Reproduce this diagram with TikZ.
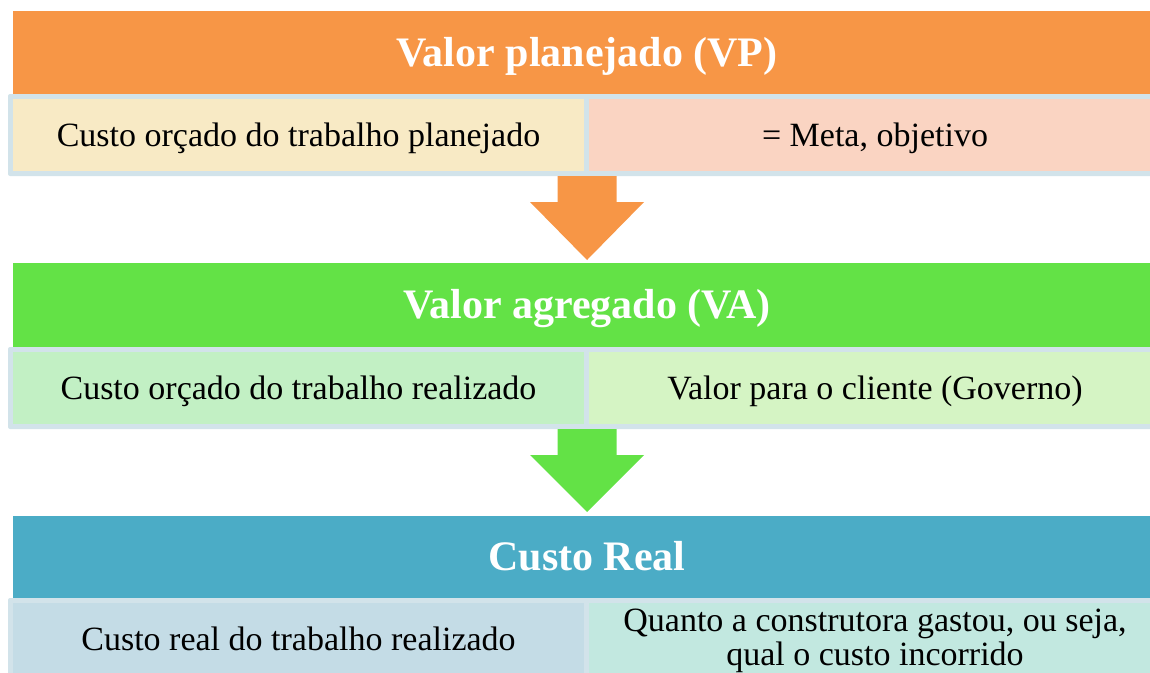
\documentclass[tikz,border=0pt]{standalone}
\usepackage{fontspec}
\setmainfont{Liberation Serif}
\usetikzlibrary{calc}
\definecolor{hOrange}{HTML}{F79646}
\definecolor{hGreen}{HTML}{63E246}
\definecolor{hBlue}{HTML}{4BACC6}
\definecolor{frameC}{HTML}{D2E3EA}
\definecolor{cYellow}{HTML}{F8EAC5}
\definecolor{cPeach}{HTML}{FAD4C2}
\definecolor{cGreenA}{HTML}{C2F0C4}
\definecolor{cGreenB}{HTML}{D5F4C4}
\definecolor{cBlueA}{HTML}{C4DCE6}
\definecolor{cBlueB}{HTML}{C2E8E0}
\tikzset{
  headbox/.style={minimum width=1148pt, minimum height=84pt, inner sep=0pt, text=white,
    text height=32pt, text depth=6pt, font=\fontsize{42}{46}\selectfont\bfseries},
  framebox/.style={fill=frameC, minimum width=1158pt, minimum height=82pt, inner sep=0pt, rounded corners=2pt},
  cellbox/.style={minimum width=571pt, minimum height=72pt, inner sep=0pt, text=black, align=center,
    font=\fontsize{34}{34}\selectfont},
  oneline/.style={text height=28pt, text depth=6pt},
}
\newcommand{\blockarrow}[3]{%
  \fill[#1] ($(#2.south)+(-29.5,0)$) -- ($(#2.south)+(29.5,0)$) -- ($(#2.south)+(29.5,26)$)
     -- ($(#2.south)+(57,26)$) -- (#3.north) -- ($(#2.south)+(-57,26)$) -- ($(#2.south)+(-29.5,26)$) -- cycle;}
\begin{document}
\begin{tikzpicture}[x=1pt,y=-1pt]
\useasboundingbox (0,0) rectangle (1150,672);
\clip (0,0) rectangle (1150,672);
% row 1
\node[headbox, fill=hOrange] (h1) at (587,53) {Valor planejado (VP)};
\node[framebox] (f1) at (587,135) {};
\node[cellbox, oneline, fill=cYellow] (l1) at (298.5,135) {Custo orçado do trabalho planejado};
\node[cellbox, oneline, fill=cPeach, minimum width=572pt] (r1) at (875,135) {= Meta, objetivo};
% row 2
\node[headbox, fill=hGreen] (h2) at (587,305) {Valor agregado (VA)};
\node[framebox] (f2) at (587,388) {};
\node[cellbox, oneline, fill=cGreenA] (l2) at (298.5,388) {Custo orçado do trabalho realizado};
\node[cellbox, oneline, fill=cGreenB, minimum width=572pt] (r2) at (875,388) {Valor para o cliente (Governo)};
% row 3
\node[headbox, fill=hBlue, minimum height=82pt] (h3) at (587,557) {Custo Real};
\node[framebox] (f3) at (587,639) {};
\node[cellbox, oneline, fill=cBlueA] (l3) at (298.5,639) {Custo real do trabalho realizado};
\node[cellbox, fill=cBlueB, minimum width=572pt, minimum height=76pt] (r3) at (875,641) {Quanto a construtora gastou, ou seja,\\qual o custo incorrido};
% arrows
\coordinate (a1s) at (587,176);
\coordinate (a1t) at (587,260);
\coordinate (a2s) at (587,429);
\coordinate (a2t) at (587,512);
\blockarrow{hOrange}{a1s}{a1t}
\blockarrow{hGreen}{a2s}{a2t}
\end{tikzpicture}
\end{document}
